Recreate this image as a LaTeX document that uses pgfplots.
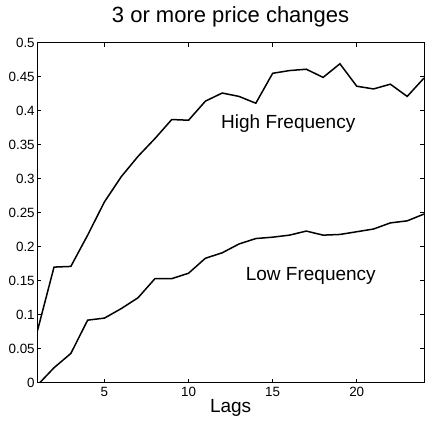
\documentclass[border=0pt]{standalone}
\usepackage{fontspec}
\setmainfont{Liberation Sans}
\usepackage{pgfplots}
\pgfplotsset{compat=1.18}

\begin{document}
\begin{tikzpicture}
\useasboundingbox (-37.2bp,-45.3bp) rectangle (389.8bp,382.7bp);
\begin{axis}[
    at={(0,0)}, anchor=south west,
    scale only axis,
    width=386.8bp, height=340bp,
    xmin=1, xmax=24, ymin=0, ymax=0.5,
    xtick={5,10,15,20},
    ytick={0,0.05,...,0.5},
    yticklabels={0,0.05,0.1,0.15,0.2,0.25,0.3,0.35,0.4,0.45,0.5},
    tick align=inside,
    major tick length=4bp,
    axis line style={line width=0.8bp},
    tick style={line width=0.6bp, black},
    /pgf/number format/assume math mode=true,
    ticklabel style={font=\fontsize{13.4bp}{15bp}\selectfont},
    xticklabel style={yshift=-1bp},
    yticklabel style={xshift=1bp},
    title={3 or more price changes},
    title style={font=\fontsize{22bp}{25bp}\selectfont, at={(rel axis cs:0.5,1)}, anchor=south, yshift=6bp},
    xlabel={Lags},
    xlabel style={font=\fontsize{19bp}{22bp}\selectfont, yshift=4bp},
    clip=true,
]
\addplot[black, line width=1.5bp] coordinates {
(1,0.075) (2,0.170) (3,0.171) (4,0.217) (5,0.266) (6,0.303) (7,0.333) (8,0.359)
(9,0.387) (10,0.386) (11,0.414) (12,0.426) (13,0.421) (14,0.411) (15,0.455)
(16,0.459) (17,0.461) (18,0.449) (19,0.469) (20,0.436) (21,0.432) (22,0.439)
(23,0.421) (24,0.448)
};
\addplot[black, line width=1.5bp] coordinates {
(1,-0.004) (2,0.022) (3,0.043) (4,0.092) (5,0.095) (6,0.109) (7,0.125) (8,0.153)
(9,0.153) (10,0.161) (11,0.183) (12,0.191) (13,0.204) (14,0.212) (15,0.214)
(16,0.217) (17,0.223) (18,0.217) (19,0.218) (20,0.222) (21,0.226) (22,0.235)
(23,0.238) (24,0.248)
};
\node[font=\fontsize{19bp}{22bp}\selectfont] at (axis cs:15.93,0.381) {High Frequency};
\node[font=\fontsize{19bp}{22bp}\selectfont] at (axis cs:17.27,0.157) {Low Frequency};
\end{axis}
\end{tikzpicture}
\end{document}
